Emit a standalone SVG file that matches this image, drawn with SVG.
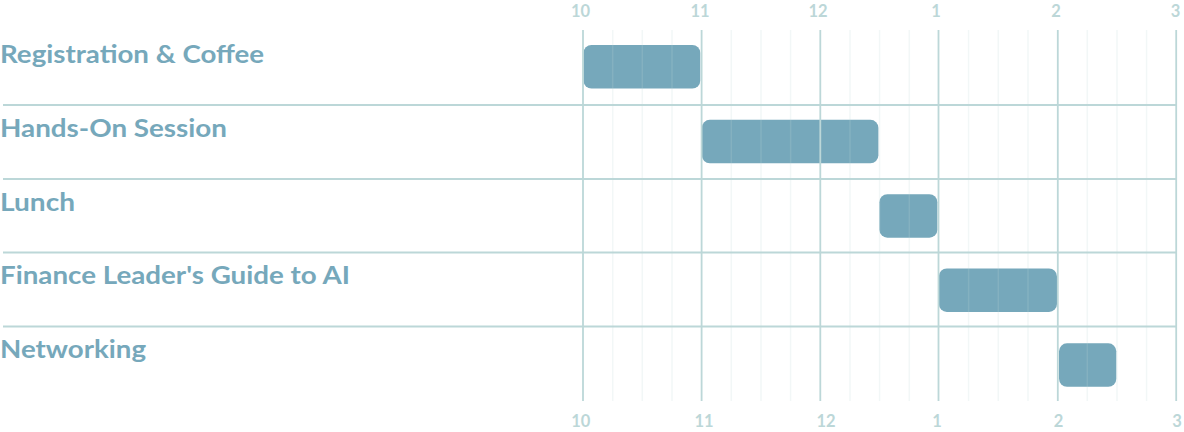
<svg xmlns="http://www.w3.org/2000/svg" width="1184" height="432" viewBox="0 0 1184 432">
  <style>
    .lbl{font-family:Lato,"Open Sans","Liberation Sans",sans-serif;font-weight:700;font-size:24px;fill:#76a8bb}
    .tick{font-family:Lato,"Open Sans","Liberation Sans",sans-serif;font-weight:700;font-size:16.5px;fill:#bcd7d8;text-anchor:middle}
    .bar{fill:#76a8bb}
    .major{stroke:#bcd7d8;stroke-width:1.8;fill:none}
    .minor{stroke:#bcd7d8;stroke-opacity:0.2;stroke-width:1.5;fill:none}
    .row{stroke:#bcd7d8;stroke-width:2;fill:none}
  </style>
  <rect width="1184" height="432" fill="#ffffff"/>

  <g id="axis-top">
    <text class="tick" x="580.5" y="17">10</text>
    <text class="tick" x="700" y="17">11</text>
    <text class="tick" x="818" y="17">12</text>
    <text class="tick" x="936" y="17">1</text>
    <text class="tick" x="1056" y="17">2</text>
    <text class="tick" x="1175.5" y="17">3</text>
  </g>
  <g id="axis-bottom">
    <text class="tick" x="580.7" y="427">10</text>
    <text class="tick" x="704" y="427">11</text>
    <text class="tick" x="826" y="427">12</text>
    <text class="tick" x="937" y="427">1</text>
    <text class="tick" x="1058.5" y="427">2</text>
    <text class="tick" x="1177" y="427">3</text>
  </g>

  <g id="row-lines">
    <line class="row" x1="3" y1="105" x2="1176" y2="105"/>
    <line class="row" x1="3" y1="179" x2="1176" y2="179"/>
    <line class="row" x1="3" y1="252.5" x2="1176" y2="252.5"/>
    <line class="row" x1="3" y1="326.5" x2="1176" y2="326.5"/>
  </g>

  <g id="registration-coffee">
    <text class="lbl" x="0" y="63.3" textLength="264" lengthAdjust="spacingAndGlyphs">Registration &amp; Coffee</text>
    <rect class="bar" x="583.5" y="45" width="116.8" height="43.5" rx="8"/>
  </g>
  <g id="hands-on-session">
    <text class="lbl" x="0" y="136.7" textLength="227" lengthAdjust="spacingAndGlyphs">Hands-On Session</text>
    <rect class="bar" x="701.8" y="119.8" width="176.6" height="43.5" rx="8"/>
  </g>
  <g id="lunch">
    <text class="lbl" x="0" y="211" textLength="75" lengthAdjust="spacingAndGlyphs">Lunch</text>
    <rect class="bar" x="879.4" y="194.2" width="58" height="43.5" rx="8"/>
  </g>
  <g id="finance-leaders-guide">
    <text class="lbl" x="0" y="284.3" textLength="350" lengthAdjust="spacingAndGlyphs">Finance Leader's Guide to AI</text>
    <rect class="bar" x="938.8" y="268.4" width="118.2" height="43.5" rx="8"/>
  </g>
  <g id="networking">
    <text class="lbl" x="0" y="358" textLength="146" lengthAdjust="spacingAndGlyphs">Networking</text>
    <rect class="bar" x="1059" y="343.3" width="57.3" height="43.5" rx="8"/>
  </g>

  <g id="grid-minor">
    <line class="minor" x1="612.7" y1="30" x2="612.7" y2="401"/>
    <line class="minor" x1="642.3" y1="30" x2="642.3" y2="401"/>
    <line class="minor" x1="672" y1="30" x2="672" y2="401"/>
    <line class="minor" x1="731.3" y1="30" x2="731.3" y2="401"/>
    <line class="minor" x1="761" y1="30" x2="761" y2="401"/>
    <line class="minor" x1="790.6" y1="30" x2="790.6" y2="401"/>
    <line class="minor" x1="850" y1="30" x2="850" y2="401"/>
    <line class="minor" x1="879.6" y1="30" x2="879.6" y2="401"/>
    <line class="minor" x1="909.3" y1="30" x2="909.3" y2="401"/>
    <line class="minor" x1="968.6" y1="30" x2="968.6" y2="401"/>
    <line class="minor" x1="998.3" y1="30" x2="998.3" y2="401"/>
    <line class="minor" x1="1028" y1="30" x2="1028" y2="401"/>
    <line class="minor" x1="1087.3" y1="30" x2="1087.3" y2="401"/>
    <line class="minor" x1="1117" y1="30" x2="1117" y2="401"/>
    <line class="minor" x1="1146.6" y1="30" x2="1146.6" y2="401"/>
  </g>
  <g id="grid-major">
    <line class="major" x1="583" y1="30" x2="583" y2="401"/>
    <line class="major" x1="701.6" y1="30" x2="701.6" y2="401"/>
    <line class="major" x1="820.3" y1="30" x2="820.3" y2="401"/>
    <line class="major" x1="938.5" y1="30" x2="938.5" y2="401"/>
    <line class="major" x1="1057.8" y1="30" x2="1057.8" y2="401"/>
    <line class="major" x1="1176.2" y1="30" x2="1176.2" y2="401"/>
  </g>
</svg>
